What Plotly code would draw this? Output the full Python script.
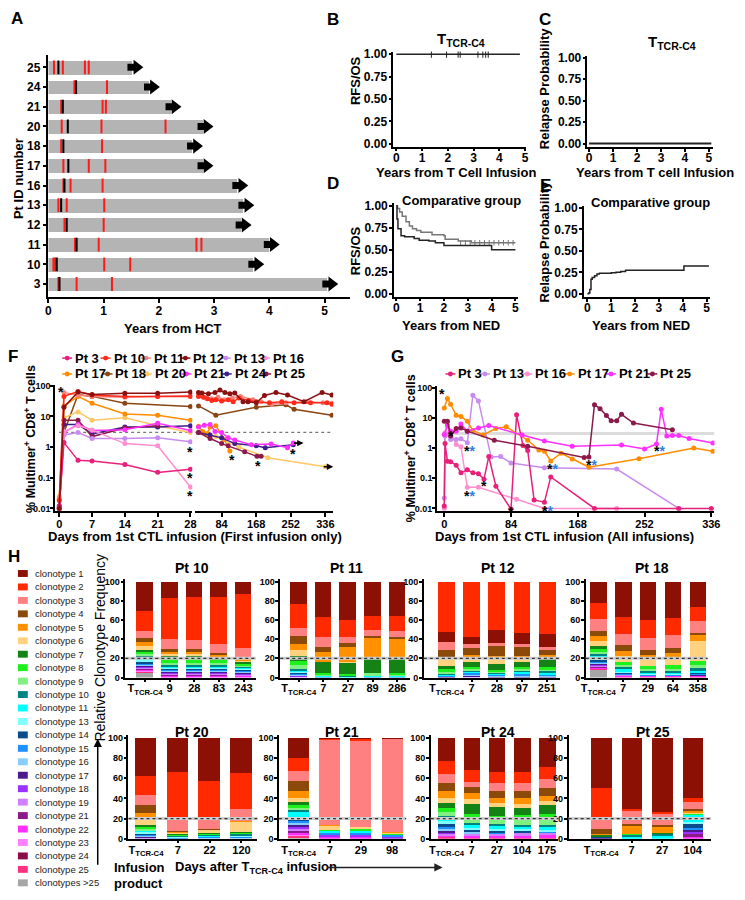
import math
import plotly.graph_objects as go

W, H = 745, 900
OFF = 8  # the page body margin shifts the figure by this many pixels
FONT = "Liberation Sans"

# ---------------- Panel A data ----------------
a_patients = ["3", "10", "11", "12", "13", "16", "17", "18", "20", "21", "24", "25"]
a_followup = [4.96, 3.62, 3.90, 3.39, 3.44, 3.33, 2.70, 2.51, 2.70, 2.12, 1.73, 1.43]
a_red = [[0.18, 0.51, 1.15], [0.09, 0.12, 1.01, 1.48], [0.48, 0.91, 2.68, 2.77], [0.29, 1.00],
         [0.18, 0.33, 1.01], [0.27, 0.40, 0.98], [0.27, 0.73, 1.03], [0.23, 0.97],
         [0.24, 0.96, 2.12], [0.23, 0.98, 1.04], [0.47, 1.06], [0.10, 0.26, 0.66, 0.73]]
a_black = [0.20, 0.15, 0.51, 0.33, 0.23, 0.29, 0.36, 0.27, 0.35, 0.26, 0.50, 0.18]

# ---------------- Panels B-E data ----------------
b_time = [0, 4.8]
b_rfs = [1.0, 1.0]
b_censor = [1.36, 1.95, 2.40, 2.48, 3.17, 3.36, 3.47, 3.57]
c_time = [0, 5.1]
c_relapse = [0.0, 0.0]
d_time_os = [0, 0.05, 0.14, 0.25, 0.41, 0.55, 0.68, 0.85, 1.03, 1.5, 2.0, 2.05, 2.6, 3.15, 5.0]
d_os = [1.0, 0.97, 0.93, 0.88, 0.82, 0.77, 0.74, 0.72, 0.70, 0.67, 0.66, 0.62, 0.60, 0.58, 0.58]
d_os_censor = [2.7, 2.9, 3.1, 3.3, 3.5, 3.7, 3.9, 4.1, 4.3, 4.5, 4.7, 4.9]
d_time_rfs = [0, 0.03, 0.07, 0.2, 0.35, 0.75, 0.96, 1.37, 1.64, 2.0, 4.0, 5.0]
d_rfs = [1.0, 0.85, 0.74, 0.66, 0.65, 0.63, 0.61, 0.60, 0.58, 0.55, 0.50, 0.50]
e_time = [0, 0.05, 0.1, 0.15, 0.2, 0.3, 0.4, 0.5, 1.0, 1.2, 1.4, 1.6, 4.05, 5.1]
e_relapse = [0.0, 0.01, 0.05, 0.17, 0.19, 0.21, 0.23, 0.24, 0.245, 0.25, 0.26, 0.275, 0.325, 0.325]

# ---------------- Panel F data (first infusion) ----------------
f_patients = ["Pt 3", "Pt 10", "Pt 11", "Pt 12", "Pt 13", "Pt 16",
              "Pt 17", "Pt 18", "Pt 20", "Pt 21", "Pt 24", "Pt 25"]
pt_colors = ["#e8207a", "#ff2a1a", "#f4837d", "#8b1010", "#c88cf0", "#ff8fd0",
             "#ff8c00", "#8b4513", "#ffc864", "#ff30ff", "#3c1e8c", "#8b1a4a"]
f_days = [0, 1, 4, 7, 14, 21, 28]
f_days_pt18 = [0, 1, 4, 7, 14, 28]
f_days_pt25 = [0, 1, 4, 7, 14, 21]
f_pt3 = [0.012, 1.4, 0.37, 0.35, 0.27, 0.15, 0.19]
f_pt10 = [0.018, 45, 65, 50, 45, 45, 45]
f_pt11 = [0.022, 60, 50, 45, 42, 45, 48]
f_pt12 = [0.010, 20, 62, 52, 57, 57, 62]
f_pt13 = [0.011, 2.5, 3.0, 1.9, 1.9, 2.0, 1.5]
f_pt16 = [0.010, 3.2, 5.0, 3.6, 1.3, 1.1, 0.05]
f_pt17 = [0.020, 22, 45, 27, 12, 11, 7.5]
f_pt18 = [0.010, 3, 52, 45, 27, 21]
f_pt20 = [0.025, 9, 14, 7.5, 9, 5, 3]
f_pt21 = [0.010, 3, 5.5, 3.5, 3.7, 6, 3.5]
f_pt24 = [0.012, 5.5, 5.5, 2.7, 4.5, 4.5, 5]
f_pt25 = [0.010, 7.5, 7.5, 2.2, 4.2, 5]

f_late_days_pt10 = [28, 40, 50, 60, 70, 84, 100, 112, 126, 150, 168, 200, 230, 260, 300, 340, 352]
f_late_pt10 = [45, 42, 38, 33, 35, 32, 35, 30, 40, 33, 30, 28, 30, 28, 28, 28, 25]
f_late_days_pt11 = [28, 45, 60, 75, 90, 110, 130, 160, 180, 205, 240, 290, 330, 352]
f_late_pt11 = [48, 40, 38, 42, 35, 40, 45, 35, 30, 25, 28, 30, 28, 27]
f_late_days_pt12 = [28, 36, 52, 68, 80, 92, 104, 116, 136, 148, 168, 188, 216, 244, 284, 328, 352]
f_late_pt12 = [60, 58, 55, 60, 72, 60, 55, 58, 30, 30, 28, 48, 60, 50, 30, 60, 50]
f_late_days_pt17 = [28, 38, 48, 56, 70, 90, 104]
f_late_pt17 = [4.8, 3.2, 2.7, 4.5, 5, 1.8, 0.75]
f_late_days_pt18 = [28, 70, 168, 240, 260, 352]
f_late_pt18 = [22, 11, 20, 24, 17, 11]
f_late_days_pt20 = [28, 70, 126, 196, 336]
f_late_pt20 = [3, 2.2, 1.0, 0.45, 0.23]
f_late_days_pt21 = [28, 42, 56, 68, 84, 100, 116, 156, 204, 244, 258]
f_late_pt21 = [4.5, 5.2, 5.5, 3.2, 3, 2, 1.7, 1.2, 1.25, 0.95, 1.35]
f_late_days_pt24 = [28, 56, 84, 116, 168, 190, 258]
f_late_pt24 = [3, 2.5, 2, 1.3, 1.1, 0.95, 1.2]
f_late_days_pt25 = [28, 56, 84, 100, 140, 170, 180]
f_late_pt25 = [3, 1.9, 1.3, 1.1, 0.7, 0.5, 0.5]
f_threshold = 3

# ---------------- Panel G data (all infusions) ----------------
g_patients = ["Pt 3", "Pt 13", "Pt 16", "Pt 17", "Pt 21", "Pt 25"]
g_days_pt3 = [0, 1, 4, 8, 15, 21, 29, 36, 43, 50, 56, 65, 84, 91, 99, 105, 113, 126, 134, 189, 295, 336]
g_pt3 = [0.012, 1.4, 0.36, 0.35, 0.27, 0.15, 0.19, 0.15, 0.14, 0.093, 0.52, 0.054, 0.0095,
         12.5, 1.2, 0.82, 0.019, 0.016, 0.11, 0.01, 0.01, 0.01]
g_days_pt13 = [0, 1, 4, 8, 15, 21, 29, 36, 43, 59, 71, 84, 126, 217, 295]
g_pt13 = [0.022, 2.5, 2.8, 1.9, 1.9, 2.0, 1.5, 55, 36, 0.5, 0.52, 0.32, 0.22, 0.2, 0.01]
g_days_pt16 = [0, 1, 4, 8, 15, 21, 29, 43, 91, 126, 217]
g_pt16 = [0.01, 3.2, 5, 3.6, 1.3, 1.1, 0.05, 0.05, 0.02, 0.01, 0.01]
g_days_pt17 = [0, 4, 8, 15, 21, 29, 36, 49, 65, 78, 105, 119, 126, 134, 147, 161, 182, 245, 314, 338]
g_pt17 = [21, 43, 28, 12, 11, 7.6, 3.8, 2.7, 4.4, 5, 1.8, 0.86, 0.78, 0.37, 0.67, 0.43, 0.23, 0.44, 1.0, 0.78]
g_days_pt21 = [0, 4, 8, 15, 21, 29, 43, 56, 98, 126, 161, 223, 252, 267, 273, 280, 287, 295, 308, 338]
g_pt21 = [2.8, 5.7, 3.6, 3.6, 6.2, 3.6, 4.6, 5.5, 2.7, 1.7, 1.13, 1.25, 0.93, 1.35, 19, 2.5, 2.6, 2.6, 2.05, 1.45]
g_days_pt25 = [0, 4, 8, 15, 21, 29, 63, 105, 176, 182, 189, 196, 204, 210, 217, 223, 238, 287]
g_pt25 = [7.6, 7.6, 2.5, 4.4, 4.6, 3.6, 1.8, 1.13, 0.48, 0.5, 27, 20, 11.8, 8, 8, 13, 6.7, 4]
g_colors = ["#e8207a", "#c88cf0", "#ff8fd0", "#ff8c00", "#ff30ff", "#8b1a4a"]

# ---------------- Panel H data ----------------
clono_keys = ["1", "2", "3", "4", "5", "6", "7", "8", "9", "10", "11", "13", "14", "15",
              "16", "17", "18", "19", "21", "22", "23", "24", "25", ">25"]
clono_colors = ["#8c1004", "#ff2a00", "#ff8080", "#8b4a0a", "#ff9000", "#ffd27f",
                "#148214", "#1ef01e", "#80f080", "#008282", "#00ffff", "#80ffff",
                "#0a4c8c", "#1e90ff", "#87cefa", "#4b1a8c", "#9b30ff", "#d080ff",
                "#8b1a8b", "#ff30ff", "#ff80ff", "#8b0a4a", "#ff3080", "#a6a6a6"]
TT = "T<sub>TCR-C4</sub>"
h_days_pt10 = [TT, "9", "28", "83", "243"]
h_pt10 = {"1": [30, 17, 16, 16, 13], "2": [21, 43, 45, 49, 56], "3": [7, 10, 9, 9, 9],
          "4": [5, 3, 3, 2, 2], "5": [4, 2, 2, 2, 2], "6": [4, 2, 2, 1, 1], "7": [2, 1, 2, 2, 2],
          "8": [2, 7, 6, 4, 2], "9": [2, 1, 1, 1, 1], "10": [2, 2, 2, 2, 1], "11": [2, 1, 1, 1, 1],
          "13": [2, 1, 1, 1, 1], "14": [2, 1, 1, 1, 1], "15": [1, 1, 1, 1, 1], "16": [1, 1, 1, 1, 1],
          "17": [1, 1, 1, 1, 1], "18": [1, 1, 1, 1, 1], "19": [1, 1, 1, 1, 1], "21": [1, 1, 1, 1, 1],
          "22": [1, 3, 3, 3, 2], "23": [1, 0, 0, 0, 0], "25": [1, 0, 0, 0, 0], ">25": [6, 0, 0, 0, 0]}
h_days_pt11 = [TT, "7", "27", "89", "286"]
h_pt11 = {"1": [23, 37, 40, 36, 36], "2": [25, 20, 17, 14, 15], "3": [8, 11, 7, 6, 6],
          "4": [9, 5, 4, 2, 3], "5": [6, 10, 15, 21, 19], "6": [6, 0, 1, 1, 1], "7": [5, 12, 12, 15, 15],
          "8": [5, 1, 1, 0, 1], "9": [4, 1, 1, 2, 1], "10": [1, 1, 1, 1, 1], "11": [1, 1, 1, 1, 1],
          "13": [1, 0, 0, 0, 0], "14": [1, 0, 0, 0, 0], "15": [1, 1, 0, 1, 1], "16": [1, 0, 0, 0, 0],
          "17": [1, 0, 0, 0, 0], "18": [1, 0, 0, 0, 0], "19": [1, 0, 0, 0, 0]}
h_days_pt12 = [TT, "7", "28", "97", "251"]
h_pt12 = {"1": [11, 8, 14, 12, 14], "2": [52, 57, 50, 53, 54], "3": [8, 4, 3, 2, 3],
          "4": [7, 7, 10, 10, 5], "5": [2, 2, 2, 3, 2], "6": [8, 5, 7, 3, 2], "7": [3, 6, 6, 6, 9],
          "8": [3, 1, 1, 1, 2], "9": [1, 2, 1, 2, 1], "10": [1, 1, 1, 1, 2], "11": [1, 1, 1, 2, 2],
          "14": [1, 0, 0, 0, 0], "15": [1, 2, 2, 2, 2], "16": [0, 2, 1, 2, 1], "17": [1, 1, 1, 1, 1],
          "19": [0, 1, 0, 0, 0]}
h_days_pt18 = [TT, "7", "29", "64", "358"]
h_pt18 = {"1": [22, 37, 40, 38, 26], "2": [17, 17, 18, 17, 15], "3": [12, 12, 13, 14, 12],
          "4": [5, 6, 5, 5, 2], "5": [6, 5, 4, 4, 7], "6": [5, 6, 8, 9, 20], "7": [3, 0, 0, 0, 0],
          "8": [3, 4, 3, 4, 5], "9": [2, 1, 1, 1, 2], "10": [2, 3, 2, 2, 4], "11": [2, 2, 1, 1, 1],
          "13": [2, 1, 1, 1, 0], "14": [2, 1, 0, 0, 1], "15": [1, 1, 1, 1, 1], "16": [1, 0, 0, 0, 0],
          "17": [1, 0, 0, 0, 1], "18": [1, 0, 0, 0, 0], "19": [1, 1, 1, 1, 0], "21": [1, 0, 0, 0, 0],
          "22": [1, 2, 1, 1, 2], "25": [1, 1, 1, 1, 1], ">25": [9, 0, 0, 0, 0]}
h_days_pt20 = [TT, "7", "22", "120"]
h_pt20 = {"1": [38, 34, 43, 35], "2": [19, 45, 37, 35], "3": [9, 13, 10, 12], "4": [8, 1, 1, 0],
          "5": [6, 1, 0, 1], "6": [6, 1, 3, 10], "7": [2, 1, 1, 1], "8": [2, 1, 1, 1], "9": [2, 0, 0, 0],
          "10": [0, 1, 1, 2], "11": [1, 0, 1, 0], "13": [2, 1, 0, 1], "14": [1, 0, 0, 0],
          "15": [1, 1, 1, 1], "16": [1, 0, 1, 1], "17": [1, 0, 0, 0], "19": [1, 0, 0, 0]}
h_days_pt21 = [TT, "7", "29", "98"]
h_pt21 = {"1": [20, 0.6, 0.6, 0.4], "2": [13, 0.4, 1.4, 0], "3": [10, 85, 86, 92.6], "4": [10, 0, 0, 0],
          "5": [6, 1, 0, 1], "6": [4, 4, 2, 1], "7": [3, 0, 0, 0], "8": [3, 1, 2, 1], "9": [2, 0, 0, 0],
          "10": [2, 0, 0, 0], "11": [5, 2, 2, 0], "13": [2, 0, 0, 0], "14": [2, 0, 0, 0],
          "15": [2, 2, 2, 2], "16": [2, 0, 0, 0], "17": [2, 0, 0, 0], "18": [2, 2, 2, 2],
          "19": [2, 0, 0, 0], "21": [2, 0, 0, 0], "22": [2, 2, 2, 0], "23": [1, 0, 0, 0],
          "25": [2, 0, 0, 0], ">25": [1, 0, 0, 0]}
h_days_pt24 = [TT, "7", "27", "104", "175"]
h_pt24 = {"1": [23, 32, 34, 34, 29], "2": [13, 12, 11, 11, 12], "3": [9, 5, 8, 8, 9],
          "4": [8, 6, 6, 6, 8], "5": [6, 5, 5, 6, 4], "6": [5, 5, 4, 4, 4], "7": [5, 10, 9, 7, 9],
          "8": [4, 4, 2, 3, 3], "9": [4, 5, 6, 7, 8], "10": [2, 2, 2, 2, 2], "11": [3, 3, 3, 2, 3],
          "13": [3, 2, 2, 2, 2], "14": [3, 2, 2, 2, 0], "15": [2, 0, 1, 0, 1], "16": [2, 2, 0, 0, 0],
          "17": [2, 0, 0, 0, 0], "18": [1, 0, 0, 0, 0], "19": [2, 2, 2, 3, 2], "22": [1, 2, 2, 2, 3],
          "25": [2, 1, 1, 1, 1]}
h_days_pt25 = [TT, "7", "27", "104"]
h_pt25 = {"1": [50, 70, 73, 59], "2": [29, 2, 2, 4], "3": [11, 13, 11, 7], "4": [5, 2, 2, 2],
          "5": [1, 8, 6, 2], "6": [0, 0, 0, 1], "7": [2, 0, 1, 0], "8": [0, 1, 0, 1], "10": [0, 2, 2, 0],
          "11": [0, 2, 3, 7], "13": [0, 0, 0, 2], "14": [1, 0, 0, 4], "15": [0, 0, 0, 2],
          "17": [1, 0, 0, 2], "18": [0, 0, 0, 2], "21": [0, 0, 0, 3], "22": [0, 0, 0, 2]}
h_threshold = 20

# ======================================================================
def X(p):
    return (p - OFF) / W


def Y(p):
    return 1 - (p - OFF) / H


def tf(size=12, weight="bold"):
    return dict(family=FONT, size=size, color="black", weight=weight)


fig = go.Figure()
axes = {}


def ref(n):
    return ("x", "y") if n == 1 else (f"x{n}", f"y{n}")


def add_axes(n, xpx, ypx, xkw, ykw):
    xr, yr = ref(n)
    base = dict(showline=True, linecolor="black", linewidth=1.5, ticks="outside", ticklen=4,
                tickwidth=1.5, tickcolor="black", showgrid=False, zeroline=False, tickfont=tf(12))
    xa = dict(base)
    xa.update(domain=[X(xpx[0]), X(xpx[1])], anchor=yr)
    xa.update(xkw)
    ya = dict(base)
    ya.update(domain=[Y(ypx[1]), Y(ypx[0])], anchor=xr)
    ya.update(ykw)
    axes["xaxis" if n == 1 else f"xaxis{n}"] = xa
    axes["yaxis" if n == 1 else f"yaxis{n}"] = ya


annots = []
shapes = []


def text(x, y, s, size=13, weight="bold", angle=0, xanchor="center", color="black"):
    annots.append(dict(x=X(x), y=Y(y), xref="paper", yref="paper", text=s, showarrow=False,
                       textangle=angle, xanchor=xanchor, yanchor="middle",
                       font=dict(family=FONT, size=size, color=color, weight=weight)))


def arrow(x_tip, y_tip, dx, dy, color="black", size=1.1, width=1.5):
    annots.append(dict(x=X(x_tip), y=Y(y_tip), xref="paper", yref="paper", text=" ", showarrow=True,
                       ax=dx, ay=dy, arrowhead=2, arrowsize=size, arrowwidth=width, arrowcolor=color,
                       font=dict(size=1)))


# ---------------- Panel A ----------------
rows = list(range(len(a_patients)))
fig.add_trace(go.Bar(x=[L + 0.1 for L in a_followup], y=rows, orientation="h", width=0.7,
                     marker=dict(color="#b4b4b4", line=dict(width=0)), xaxis="x", yaxis="y",
                     showlegend=False))
rx, ry = [], []
for i, reds in enumerate(a_red):
    for r in reds:
        rx += [r, r, None]
        ry += [i - 0.35, i + 0.35, None]
fig.add_trace(go.Scatter(x=rx, y=ry, mode="lines", line=dict(color="#ff1a1a", width=2),
                         xaxis="x", yaxis="y", showlegend=False))
bx, by = [], []
for i, b in enumerate(a_black):
    bx += [b, b, None]
    by += [i - 0.35, i + 0.35, None]
fig.add_trace(go.Scatter(x=bx, y=by, mode="lines", line=dict(color="black", width=2),
                         xaxis="x", yaxis="y", showlegend=False))
arx, ary = [], []
for i, L in enumerate(a_followup):
    arx += [L, L + 0.13, None]
    ary += [i, i, None]
fig.add_trace(go.Scatter(x=arx, y=ary, mode="lines", line=dict(color="black", width=7),
                         xaxis="x", yaxis="y", showlegend=False))
fig.add_trace(go.Scatter(x=[L + 0.17 for L in a_followup], y=rows, mode="markers",
                         marker=dict(symbol="triangle-right", size=13, color="black"),
                         xaxis="x", yaxis="y", showlegend=False))
add_axes(1, (44, 350), (50, 295),
         dict(range=[0, 5.46], tickvals=[0, 1, 2, 3, 4, 5], ticklabelstandoff=-2),
         dict(range=[-0.65, 11.65], tickvals=rows, ticktext=a_patients))
text(12, 14, "A", 17)
text(13, 175, "Pt ID number", 13, angle=-90)
text(170, 327, "Years from HCT", 13)

# ---------------- Panels B-E ----------------
prob_ticks = dict(tickvals=[0, 0.25, 0.5, 0.75, 1.0], ticktext=["0.00", "0.25", "0.50", "0.75", "1.00"],
                  ticklen=3, ticklabelstandoff=-1)
km_x = dict(tickvals=[0, 1, 2, 3, 4, 5], ticklen=3, ticklabelstandoff=-4, tickfont=tf(12))
fig.add_trace(go.Scatter(x=b_time, y=b_rfs, mode="lines", line=dict(color="#222", width=1.5),
                         xaxis="x2", yaxis="y2", showlegend=False))
fig.add_trace(go.Scatter(x=b_censor, y=[1.0] * len(b_censor), mode="markers",
                         marker=dict(symbol="line-ns", size=5, line=dict(width=1, color="#222")),
                         xaxis="x2", yaxis="y2", showlegend=False))
add_axes(2, (394, 529), (47, 143), dict(range=[-0.12, 5.05], **km_x),
         dict(range=[-0.03, 1.03], **prob_ticks))
fig.add_trace(go.Scatter(x=c_time, y=c_relapse, mode="lines", line=dict(color="#222", width=2),
                         xaxis="x3", yaxis="y3", showlegend=False))
add_axes(3, (591, 718), (51.3, 143.5), dict(range=[-0.07, 5.15], **km_x),
         dict(range=[-0.04, 1.02], **prob_ticks))
fig.add_trace(go.Scatter(x=d_time_os, y=d_os, mode="lines", line=dict(color="#777", width=1.5, shape="hv"),
                         xaxis="x4", yaxis="y4", showlegend=False))
fig.add_trace(go.Scatter(x=d_os_censor, y=[0.58] * len(d_os_censor), mode="markers",
                         marker=dict(symbol="line-ns", size=4, line=dict(width=1, color="#777")),
                         xaxis="x4", yaxis="y4", showlegend=False))
fig.add_trace(go.Scatter(x=d_time_rfs, y=d_rfs, mode="lines", line=dict(color="#222", width=1.5, shape="hv"),
                         xaxis="x4", yaxis="y4", showlegend=False))
add_axes(4, (394.6, 520.4), (200.3, 294.7), dict(range=[-0.1, 5.1], **km_x),
         dict(range=[-0.03, 1.03], **prob_ticks))
fig.add_trace(go.Scatter(x=e_time, y=e_relapse, mode="lines", line=dict(color="#222", width=1.5, shape="hv"),
                         xaxis="x5", yaxis="y5", showlegend=False))
add_axes(5, (587.4, 715.6), (203.3, 295.5), dict(range=[-0.15, 5.15], **km_x),
         dict(range=[-0.04, 1.02], **prob_ticks))
text(333, 15, "B", 17)
text(548, 15, "C", 17)
text(333, 180, "D", 17)
text(548, 182, "E", 17)
text(463, 35, "T<sub>TCR-C4</sub>", 15)
text(677, 38, "T<sub>TCR-C4</sub>", 15)
text(463, 198, "Comparative group", 13)
text(655, 200, "Comparative group", 13)
text(355, 76, "RFS/OS", 13, angle=-90)
text(355, 248, "RFS/OS", 13, angle=-90)
text(547, 85, "Relapse Probability", 13, angle=-90)
text(547, 240, "Relapse Probability", 13, angle=-90)
text(458, 169, "Years from T Cell Infusion", 13)
text(660, 169, "Years from T cell Infusion", 13)
text(453, 324, "Years from NED", 13)
text(645, 324, "Years from NED", 13)

# ---------------- Panel F ----------------
f_early = [(f_days, f_pt3), (f_days, f_pt10), (f_days, f_pt11), (f_days, f_pt12), (f_days, f_pt13),
           (f_days, f_pt16), (f_days, f_pt17), (f_days_pt18, f_pt18), (f_days, f_pt20),
           (f_days, f_pt21), (f_days, f_pt24), (f_days_pt25, f_pt25)]
f_late = {"Pt 10": (f_late_days_pt10, f_late_pt10), "Pt 11": (f_late_days_pt11, f_late_pt11),
          "Pt 12": (f_late_days_pt12, f_late_pt12), "Pt 17": (f_late_days_pt17, f_late_pt17),
          "Pt 18": (f_late_days_pt18, f_late_pt18), "Pt 20": (f_late_days_pt20, f_late_pt20),
          "Pt 21": (f_late_days_pt21, f_late_pt21), "Pt 24": (f_late_days_pt24, f_late_pt24),
          "Pt 25": (f_late_days_pt25, f_late_pt25)}
draw_order = [7, 8, 6, 10, 11, 9, 4, 5, 0, 2, 1, 3]
for xr in ("x6", "x7"):
    yr = xr.replace("x", "y")
    shapes.append(dict(type="line", xref=f"{xr} domain", yref=yr, x0=0.03 if xr == "x6" else 0, x1=1,
                       y0=f_threshold, y1=f_threshold, layer="below",
                       line=dict(color="#777", width=1.2, dash="dot")))
for i in draw_order:
    name, col = f_patients[i], pt_colors[i]
    d, v = f_early[i]
    fig.add_trace(go.Scatter(x=d, y=v, mode="lines+markers", line=dict(color=col, width=1.5),
                             marker=dict(size=5, color=col), xaxis="x6", yaxis="y6", showlegend=False))
    if name in f_late:
        d, v = f_late[name]
        fig.add_trace(go.Scatter(x=d, y=v, mode="lines+markers", line=dict(color=col, width=1.5),
                                 marker=dict(size=5, color=col), xaxis="x7", yaxis="y7", showlegend=False))
log_ticks = dict(type="log", tickvals=[0.01, 0.1, 1, 10, 100], ticktext=["0.01", "0.1", "1", "10", "100"],
                 tickfont=tf(9), ticklen=3, ticklabelstandoff=-2)
add_axes(6, (50.7, 190), (384, 511.5),
         dict(range=[-0.9, 28.4], tickvals=[0, 7, 14, 21, 28], tickfont=tf(11), ticklabelstandoff=-2),
         dict(range=[-2.08, 2.03], **log_ticks))
add_axes(7, (193, 333), (384, 511.5),
         dict(range=[20, 355], tickvals=[84, 168, 252, 336], tickfont=tf(11), ticklabelstandoff=-2),
         dict(type="log", range=[-2.08, 2.03], showline=False, showticklabels=False, ticks=""))


def star(xr, yr, x, y, s="*", size=14):
    annots.append(dict(x=x, y=math.log10(y), xref=xr, yref=yr, text=s, showarrow=False, yshift=-3,
                       font=dict(family=FONT, size=size, color="black", weight="bold")))


star("x6", "y6", 0.4, 76)
for v in (0.88, 0.12, 0.031):
    star("x6", "y6", 28, v)
for d, v in ((110, 0.48), (173, 0.31), (258, 0.74)):
    star("x7", "y7", d, v)
for d, v in ((283, 1.35), (355, 0.23)):
    annots.append(dict(x=d, y=math.log10(v), xref="x7", yref="y7", text=" ", showarrow=True, ax=-11, ay=0,
                       arrowhead=2, arrowsize=0.8, arrowwidth=1.6, arrowcolor="black", font=dict(size=1)))

text(8, 355, "F", 17)
text(25, 439, "% Multimer<sup>+</sup> CD8<sup>+</sup> T cells", 12.5, angle=-90)
text(193, 537, "Days from 1st CTL infusion (First infusion only)", 13)


def legend_entry(x, y, label, col):
    shapes.append(dict(type="line", xref="paper", yref="paper", x0=X(x), x1=X(x + 10), y0=Y(y), y1=Y(y),
                       line=dict(color=col, width=1.5)))
    shapes.append(dict(type="circle", xref="paper", yref="paper", x0=X(x + 2.5), x1=X(x + 7.5),
                       y0=Y(y + 2.5), y1=Y(y - 2.5), fillcolor=col, line=dict(width=0)))
    annots.append(dict(x=X(x + 11), y=Y(y), xref="paper", yref="paper", text=label, showarrow=False,
                       xanchor="left", yanchor="middle", font=tf(13)))


f_leg_x = [58, 97, 138, 178, 219, 259, 58, 99, 139, 179, 220, 260]
for i, name in enumerate(f_patients):
    legend_entry(f_leg_x[i], 357 if i < 6 else 373, name, pt_colors[i])

# ---------------- Panel G ----------------
g_series = [(g_days_pt3, g_pt3), (g_days_pt13, g_pt13), (g_days_pt16, g_pt16),
            (g_days_pt17, g_pt17), (g_days_pt21, g_pt21), (g_days_pt25, g_pt25)]
shapes.append(dict(type="line", xref="x8", yref="y8", x0=0, x1=340, y0=f_threshold, y1=f_threshold,
                   layer="below", line=dict(color="#dcdcdc", width=3)))
for i in (2, 1, 0, 3, 4, 5):
    d, v = g_series[i]
    fig.add_trace(go.Scatter(x=d, y=v, mode="lines+markers", line=dict(color=g_colors[i], width=1.5),
                             marker=dict(size=5, color=g_colors[i]), xaxis="x8", yaxis="y8",
                             showlegend=False))
add_axes(8, (438.3, 720), (385.2, 511.4),
         dict(range=[-9.2, 340], tickvals=[0, 84, 168, 252, 336], tickfont=tf(11), ticklabelstandoff=-2),
         dict(range=[-2.08, 2.05], **log_ticks))
BL = "*<span style='color:#2f7fd8'>*</span>"
star("x8", "y8", -3, 74)
star("x8", "y8", 8, 3.2)
for d, v in ((32, 1.0), (32, 0.033), (130, 0.0105), (136, 0.25), (185, 0.34), (271, 1.0)):
    star("x8", "y8", d, v, BL)
for d, v in ((50, 0.07), (84, 0.0098)):
    star("x8", "y8", d, v)
text(398, 355, "G", 17)
text(411, 448, "% Multimer<sup>+</sup> CD8<sup>+</sup> T cells", 12.5, angle=-90)
text(568, 537, "Days from 1st CTL infusion (All infusions)", 13)
g_leg_x = [447, 482, 525, 568, 610, 652]
for i, name in enumerate(g_patients):
    legend_entry(g_leg_x[i], 373, name, g_colors[i])

# ---------------- Panel H ----------------
std_order = list(reversed(clono_keys))
pt12_order = std_order[:-2] + ["1", "2"]
h_panels = [
    ("Pt 10", h_days_pt10, h_pt10, std_order, (122, 254.5), (580, 680), [-0.8, 4.5], 190, 569),
    ("Pt 11", h_days_pt11, h_pt11, std_order, (279.25, 410.5), (580, 680), [-0.75, 4.5], 347, 569),
    ("Pt 12", h_days_pt12, h_pt12, pt12_order, (425, 562.8), (580, 680), [-0.9, 4.5], 500, 569),
    ("Pt 18", h_days_pt18, h_pt18, std_order, (589.4, 713), (580, 680), [-0.5, 4.4], 657, 569),
    ("Pt 20", h_days_pt20, h_pt20, std_order, (125.2, 256), (738, 843), [-0.55, 3.5], 190, 735),
    ("Pt 21", h_days_pt21, h_pt21, std_order, (278, 407), (738, 843), [-0.63, 3.45], 342, 735),
    ("Pt 24", h_days_pt24, h_pt24, std_order, (432, 561.5), (738, 843), [-0.63, 4.45], 500, 735),
    ("Pt 25", h_days_pt25, h_pt25, std_order, (572, 716.6), (738, 843), [-1.06, 3.6], 658, 735),
]
for k, (title, days, freq, order, xpx, ypx, xrng, tx, ty) in enumerate(h_panels):
    n = 9 + k
    xr, yr = ref(n)
    for key in order:
        if key not in freq:
            continue
        fig.add_trace(go.Bar(x=days, y=freq[key], width=0.67, xaxis=xr, yaxis=yr, showlegend=False,
                             marker=dict(color=clono_colors[clono_keys.index(key)], line=dict(width=0))))
    add_axes(n, xpx, ypx,
             dict(type="category", range=xrng, tickfont=tf(11), ticklen=3, ticklabelstandoff=-3),
             dict(range=[0, 103], tickvals=[0, 20, 40, 60, 80, 100], tickfont=tf(9), ticklen=3,
                  ticklabelstandoff=-1))
    shapes.append(dict(type="line", xref=f"{xr} domain", yref=yr, x0=0, x1=1, y0=h_threshold, y1=h_threshold,
                       line=dict(color="#cfcfcf", width=3)))
    shapes.append(dict(type="line", xref=f"{xr} domain", yref=yr, x0=0, x1=1, y0=h_threshold, y1=h_threshold,
                       line=dict(color="#333", width=1.2, dash="dot")))
    text(tx, ty, title, 14)

text(9, 558, "H", 17)
for i, key in enumerate(clono_keys):
    yc = 574.8 + i * 13.6
    shapes.append(dict(type="rect", xref="paper", yref="paper", x0=X(13), x1=X(23), y0=Y(yc + 3.5),
                       y1=Y(yc - 3.5), fillcolor=clono_colors[i], line=dict(width=0)))
    label = "clonotypes >25" if key == ">25" else f"clonotype {key}"
    annots.append(dict(x=X(28), y=Y(yc), xref="paper", yref="paper", text=label, showarrow=False,
                       xanchor="left", yanchor="middle", font=dict(family=FONT, size=9.5, color="#222")))
text(96, 650, "Relative Clonotype Frequency", 14, weight="normal", angle=-90)
arrow(94, 742, 0, 128)
text(108, 872, "Infusion", 13, xanchor="left")
text(108, 888, "product", 13, xanchor="left")
text(170, 872, "Days after T<sub>TCR-C4</sub> infusion", 13, xanchor="left")
arrow(444, 872, -117, 0, color="#222")

fig.update_layout(width=W, height=H, margin=dict(l=0, r=0, t=0, b=0), paper_bgcolor="white",
                  plot_bgcolor="white", barmode="stack", bargap=0, showlegend=False,
                  annotations=annots, shapes=shapes, font=dict(family=FONT), **axes)
fig.write_html("out.html")
